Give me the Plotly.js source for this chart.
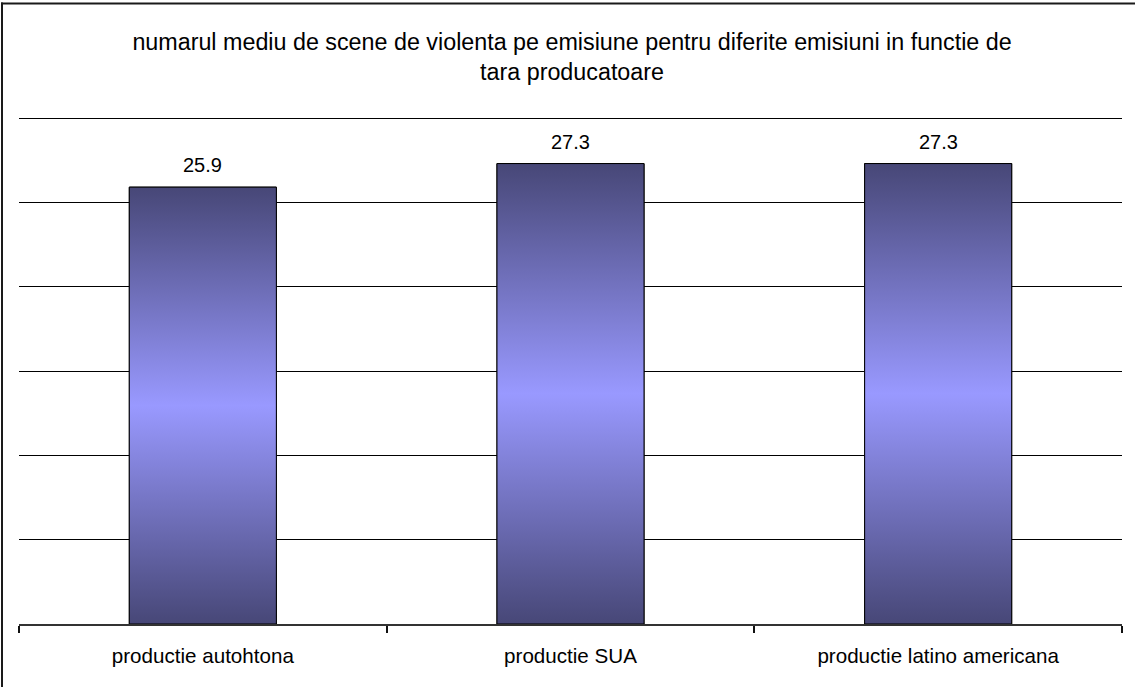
<!DOCTYPE html>
<html>
<head>
<meta charset="utf-8">
<script src="https://cdn.plot.ly/plotly-3.0.1.min.js"></script>
<style>
html,body{margin:0;padding:0;background:#fff;}
#chart{width:1135px;height:687px;}
</style>
</head>
<body>
<div id="chart"></div>
<script>
const categories = ["productie autohtona", "productie SUA", "productie latino americana"];
const values = [25.9, 27.3, 27.3];
const labels = ["25.9", "27.3", "27.3"];
const titleText = "numarul mediu de scene de violenta pe emisiune pentru diferite emisiuni in functie de<br>tara producatoare";
const yMax = 30;

const W = 1135, H = 687;
const M = {l: 19, r: 13, t: 117, b: 63};
const pw = W - M.l - M.r, ph = H - M.t - M.b;
const px = p => (p - M.l) / pw;
const py = p => (H - M.b - p) / ph;

const FONT = "Liberation Sans, Arial, sans-serif";
const barWidth = 0.4;
const grad = [[0, '#474777'], [0.5, '#9999ff'], [1, '#474777']];

const traces = [];
values.forEach((v, i) => {
  traces.push({
    type: 'scatter', xaxis: 'x2', yaxis: 'y',
    x: [i - barWidth / 2, i + barWidth / 2, i + barWidth / 2, i - barWidth / 2, i - barWidth / 2],
    y: [0, 0, v, v, 0],
    mode: 'lines', fill: 'toself',
    fillgradient: {type: 'vertical', colorscale: grad, start: 0, stop: v},
    line: {color: '#000', width: 1},
    hoverinfo: 'skip', showlegend: false
  });
});
traces.push({
  type: 'bar', x: categories, y: values, width: barWidth,
  marker: {color: 'rgba(0,0,0,0)', line: {color: '#000', width: 1}},
  hoverinfo: 'x+y', showlegend: false
});

const annotations = categories.map((c, i) => ({
  x: c, y: values[i], xref: 'x', yref: 'y', text: labels[i],
  showarrow: false, yanchor: 'bottom', yshift: 9,
  font: {family: FONT, size: 20, color: '#000'}
}));

const layout = {
  width: W, height: H,
  margin: M,
  paper_bgcolor: '#fff', plot_bgcolor: '#fff',
  font: {family: FONT, size: 20, color: '#000'},
  title: {
    text: titleText, x: 0.504, xanchor: 'center', xref: 'container',
    y: 1 - 50 / H, yanchor: 'top', yref: 'container',
    font: {family: FONT, size: 23.3, color: '#000'}
  },
  showlegend: false,
  xaxis: {
    type: 'category', range: [-0.5, 2.5], showgrid: false,
    showline: true, linecolor: '#333', linewidth: 2,
    ticks: 'outside', tickson: 'boundaries', ticklen: 7, tickcolor: '#111', tickwidth: 2,
    ticklabelstandoff: 12,
    tickfont: {family: FONT, size: 20.6, color: '#000'}, fixedrange: true
  },
  xaxis2: {overlaying: 'x', range: [-0.5, 2.5], visible: false, fixedrange: true},
  yaxis: {
    range: [0, yMax + 0.06], tickvals: [5, 10, 15, 20, 25, 30], showgrid: true, gridcolor: '#000', gridwidth: 1,
    showticklabels: false, zeroline: false, showline: false, ticks: '', fixedrange: true
  },
  annotations: annotations,
  shapes: [
    {type: 'line', xref: 'paper', yref: 'paper', x0: px(2), x1: px(2), y0: py(2.5), y1: py(H), line: {color: '#1a1a1a', width: 2}},
    {type: 'line', xref: 'paper', yref: 'paper', x0: px(1), x1: px(W), y0: py(3.5), y1: py(3.5), line: {color: '#1a1a1a', width: 2}}
  ]
};

Plotly.newPlot('chart', traces, layout, {displayModeBar: false, staticPlot: true});
</script>
</body>
</html>
